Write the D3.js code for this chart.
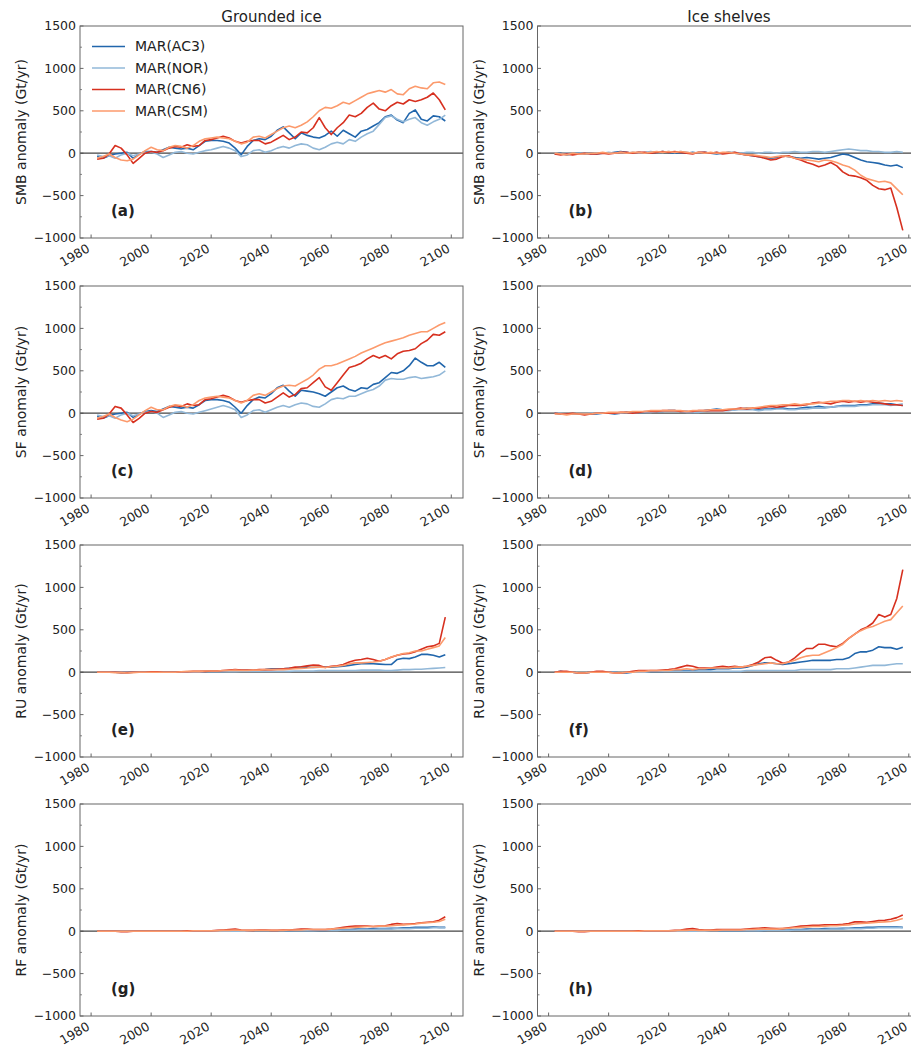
<!DOCTYPE html>
<html>
<head>
<meta charset="utf-8">
<script src="https://cdn.jsdelivr.net/npm/d3@7"></script>
<style>
  body { margin: 0; background: #fff; overflow: hidden; }
  text { font-family: "DejaVu Sans", sans-serif; fill: #222; }
</style>
</head>
<body>
<svg id="fig" width="911" height="1050"></svg>
<script>
// x values (model years, 2-yr sampling of the curves)
const years = [1982,1984,1986,1988,1990,1992,1994,1996,1998,2000,
  2002,2004,2006,2008,2010,2012,2014,2016,2018,2020,
  2022,2024,2026,2028,2030,2032,2034,2036,2038,2040,
  2042,2044,2046,2048,2050,2052,2054,2056,2058,2060,
  2062,2064,2066,2068,2070,2072,2074,2076,2078,2080,
  2082,2084,2086,2088,2090,2092,2094,2096,2098];

const models = ["MAR(AC3)", "MAR(NOR)", "MAR(CN6)", "MAR(CSM)"];
const colors = ["#2166ac", "#92b8d8", "#d7301f", "#fc9a6c"];
const xTicks = [1980, 2000, 2020, 2040, 2060, 2080, 2100];
const yTicks = [-1000, -500, 0, 500, 1000, 1500];
const colTitles = ["Grounded ice", "Ice shelves"];

// (a) SMB grounded
const smbGrAC3 = [-40,-60,-30,-10,0,10,-60,-10,20,20, 10,40,70,60,50,60,40,90,140,150,
  150,140,120,60,-20,80,150,170,160,200, 270,310,240,170,240,210,190,180,210,260,
  200,270,230,190,260,280,320,360,430,450, 390,360,470,510,400,380,440,430,380];
const smbGrNOR = [-20,-40,-30,-60,-20,0,-30,-10,10,10, -10,-50,-20,10,20,0,-10,10,30,40,
  60,80,60,30,-40,-20,30,40,10,30, 60,80,60,90,110,100,60,40,70,110,
  130,110,160,140,190,230,260,340,420,440, 400,370,400,420,360,330,370,400,450];
const smbGrCN6 = [-70,-60,-10,90,60,-20,-120,-60,0,20, 10,30,60,80,70,100,80,90,150,160,
  180,200,180,140,120,140,150,150,110,130, 170,210,160,190,250,240,300,420,300,220,
  300,360,450,430,470,540,590,520,500,560, 600,580,630,610,630,660,710,630,510];
const smbGrCSM = [-60,-40,-10,-50,-80,-90,-70,-20,30,70, 40,30,70,90,80,60,90,140,170,180,
  190,180,170,140,110,130,190,200,180,220, 260,300,320,300,330,370,430,500,540,530,
  560,600,580,620,660,700,720,740,720,750, 700,690,760,790,770,760,830,840,810];

// (b) SMB shelves
const smbShAC3 = [-10,0,-20,-10,0,-10,0,-10,0,0, 10,20,10,0,10,0,10,10,20,10,
  0,10,0,10,0,10,0,-10,0,10, 0,-10,-20,-30,-40,-50,-60,-50,-30,-40,
  -50,-60,-50,-60,-70,-60,-50,-30,-10,-20, -50,-80,-100,-110,-120,-140,-150,-140,-170];
const smbShNOR = [0,-10,0,-10,0,0,-10,0,0,10, 0,10,0,10,0,10,20,10,10,20,
  10,20,10,0,10,10,0,10,0,10, 10,0,10,10,0,10,10,0,10,10,
  20,10,10,20,20,10,20,30,40,50, 40,30,30,20,20,10,10,20,10];
const smbShCN6 = [-10,-20,-10,-20,-10,0,-10,-10,0,-10, 0,10,10,0,10,10,0,10,20,10,
  20,10,0,-10,10,10,0,10,-10,0, 10,-10,-20,-30,-40,-60,-80,-70,-40,-30,
  -60,-80,-110,-130,-160,-140,-110,-150,-220,-260, -270,-290,-320,-380,-420,-430,-410,-640,-910];
const smbShCSM = [0,-10,-20,0,-10,-10,0,0,10,0, 0,10,0,10,10,0,10,20,10,20,
  10,20,10,0,10,0,10,0,10,10, 0,-10,-20,-20,-30,-40,-50,-40,-30,-40,
  -60,-70,-80,-90,-100,-80,-90,-110,-140,-160, -200,-260,-300,-320,-340,-330,-350,-420,-490];

// (c) SF grounded
const sfGrAC3 = [-40,-60,-30,-10,0,10,-50,-10,20,30, 20,50,80,70,60,70,60,100,150,160,
  160,150,130,70,0,90,160,190,180,230, 300,330,260,200,270,260,250,230,200,250,
  300,320,280,260,300,290,340,360,420,480, 470,500,560,650,600,560,560,600,540];
const sfGrNOR = [-20,-40,-30,-60,-20,0,-30,-10,10,20, 0,-50,-20,10,20,0,-10,10,30,50,
  70,90,70,40,-50,-20,30,40,10,40, 70,90,70,100,120,110,80,70,110,160,
  180,170,200,200,230,260,280,320,390,410, 400,400,420,430,410,420,430,450,500];
const sfGrCN6 = [-70,-60,-10,80,60,-20,-110,-60,0,20, 10,40,70,90,80,110,90,100,160,170,
  190,210,190,150,130,150,160,160,120,140, 190,240,190,220,290,300,360,420,310,270,
  360,450,540,560,590,640,680,650,680,640, 700,730,740,760,820,860,930,920,960];
const sfGrCSM = [-60,-40,-10,-50,-80,-100,-70,-20,30,70, 40,40,80,100,90,70,100,150,180,190,
  200,190,180,150,120,150,210,230,210,250, 290,320,330,320,360,400,450,520,560,560,
  580,610,640,670,710,740,770,800,830,850, 870,890,920,940,960,960,1000,1040,1070];

// (d) SF shelves
const sfShAC3 = [0,-10,-10,-10,-10,-10,-10,-10,0,0, -10,0,10,10,10,10,20,20,20,30,
  30,20,20,10,20,30,40,50,40,40, 40,50,60,50,40,50,50,60,60,50,
  50,60,70,70,80,70,70,80,90,90, 90,100,100,110,120,110,110,100,90];
const sfShNOR = [0,0,-10,-10,-10,-10,0,0,0,0, 0,0,10,0,10,10,10,20,20,20,
  20,20,10,10,10,20,30,30,30,30, 40,40,40,40,30,40,40,50,50,40,
  40,50,50,60,60,60,70,80,80,80, 80,90,90,100,100,100,90,100,110];
const sfShCN6 = [0,-10,-10,0,-10,-20,-10,0,0,0, 0,10,10,0,10,20,20,20,30,30,
  30,20,20,20,30,30,30,30,30,40, 50,60,50,60,60,70,80,70,80,90,
  90,90,100,120,130,120,110,130,140,130, 140,130,140,130,120,110,100,100,90];
const sfShCSM = [-10,-10,-20,-10,-10,-10,-10,0,0,10, 10,10,10,20,20,20,30,30,30,30,
  30,30,20,30,30,30,40,40,40,50, 50,50,60,60,70,80,90,90,100,100,
  110,100,110,110,120,130,140,140,150,150, 140,150,140,150,140,150,140,150,140];

// (e) RU grounded
const ruGrAC3 = [0,0,0,0,-5,-5,0,0,0,0, 0,0,0,0,0,5,5,5,10,10,
  10,10,15,20,20,20,20,25,30,40, 40,40,45,50,60,60,55,60,60,60,
  65,70,80,90,100,100,100,95,90,90, 150,165,160,180,210,210,200,180,205];
const ruGrNOR = [0,0,0,0,0,0,0,0,0,0, 0,0,0,0,0,0,0,0,5,5,
  5,5,5,5,10,10,10,10,10,10, 10,10,10,15,15,15,15,20,20,20,
  20,20,20,20,25,25,25,25,20,20, 25,30,30,35,35,40,45,50,55];
const ruGrCN6 = [0,0,0,0,-5,-5,0,0,0,5, 5,0,0,0,5,5,10,10,10,15,
  15,20,25,30,25,25,25,30,30,30, 35,40,45,60,65,75,85,80,55,70,
  75,90,120,140,150,165,150,130,150,175, 200,215,220,240,270,300,310,340,650];
const ruGrCSM = [0,0,0,-5,-5,-10,-5,0,0,0, 0,0,0,0,5,10,10,10,15,15,
  15,20,20,25,20,20,25,25,30,30, 30,30,35,40,45,50,60,60,55,65,
  70,80,100,110,110,115,120,130,150,180, 200,220,230,250,250,270,290,310,410];

// (f) RU shelves
const ruShAC3 = [0,10,0,0,-10,-10,0,0,0,0, 0,-10,-10,0,10,10,10,10,10,20,
  20,20,20,20,30,30,30,40,40,40, 50,50,60,80,100,110,110,100,90,100,
  110,120,130,140,140,140,140,150,150,170, 220,240,240,260,300,290,290,270,295];
const ruShNOR = [0,0,0,0,-10,-10,0,0,0,0, 0,-10,0,0,0,0,10,10,10,10,
  10,10,10,10,10,10,10,10,10,10, 10,10,20,20,20,20,20,20,20,20,
  20,30,30,30,30,30,30,40,40,40, 50,60,70,80,80,80,90,100,100];
const ruShCN6 = [0,10,10,0,-10,-10,0,10,10,0, -10,-10,0,10,20,20,20,20,25,30,
  40,60,80,70,50,50,50,60,70,60, 70,60,70,90,120,170,180,140,105,120,
  170,230,280,280,330,330,310,300,340,400, 450,500,530,580,680,650,680,870,1210];
const ruShCSM = [0,0,0,0,-10,-10,0,0,0,0, -10,-10,0,0,10,10,20,20,20,20,
  30,30,40,30,40,40,50,50,50,50, 60,60,70,80,90,100,110,100,100,120,
  140,170,190,200,200,230,260,290,330,400, 450,490,520,540,570,600,620,700,780];

// (g) RF grounded
const rfGrAC3 = [0,0,0,0,0,0,0,0,0,0, 0,0,0,0,0,0,0,0,0,0,
  0,0,5,5,5,5,5,5,5,5, 5,5,5,10,10,10,10,10,10,15,
  15,20,20,25,25,25,30,30,30,35, 35,40,40,45,45,45,50,45,45];
const rfGrNOR = [0,0,0,0,0,0,0,0,0,0, 0,0,0,0,0,0,0,0,0,0,
  0,0,0,0,0,0,5,5,5,5, 5,5,5,5,5,5,5,10,10,10,
  10,15,15,15,20,20,20,25,25,25, 30,30,30,35,35,35,40,40,40];
const rfGrCN6 = [0,0,0,0,-5,-5,0,0,0,0, 0,0,0,0,0,5,5,5,5,5,
  10,15,20,25,15,10,10,15,15,10, 10,15,15,20,25,25,20,20,20,25,
  35,45,55,60,60,60,55,60,65,80, 90,80,85,90,100,105,110,130,170];
const rfGrCSM = [0,0,0,0,0,0,0,0,0,0, 0,0,0,0,0,0,5,5,5,5,
  5,10,10,15,10,10,10,10,10,10, 10,10,15,15,15,20,20,20,20,25,
  30,35,40,45,50,55,55,60,60,65, 70,75,80,85,95,100,105,115,140];

// (h) RF shelves
const rfShAC3 = [0,0,0,0,0,0,0,0,0,0, 0,0,0,0,0,0,0,0,0,0,
  0,0,5,5,5,5,5,5,5,5, 5,5,10,10,10,10,15,15,15,15,
  20,20,25,25,25,30,30,30,35,35, 40,40,45,45,50,50,50,50,45];
const rfShNOR = [0,0,0,0,0,0,0,0,0,0, 0,0,0,0,0,0,0,0,0,0,
  0,0,0,0,0,0,5,5,5,5, 5,5,5,5,5,10,10,10,10,10,
  15,15,15,20,20,20,25,25,25,30, 30,30,35,35,40,40,40,40,40];
const rfShCN6 = [0,0,0,0,-5,-5,0,0,0,0, 0,0,0,0,5,5,5,5,5,5,
  10,15,25,30,20,15,15,20,20,20, 20,20,25,30,35,40,35,30,30,40,
  50,60,65,70,70,75,75,75,80,90, 110,110,105,115,125,130,140,160,190];
const rfShCSM = [0,0,0,0,0,0,0,0,0,0, 0,0,0,0,0,5,5,5,5,5,
  5,10,10,15,10,10,10,10,15,15, 15,15,20,20,25,25,25,25,30,35,
  40,45,50,55,55,60,65,65,70,75, 85,90,95,100,105,110,115,130,150];

const panels = [
  { tag: "(a)", ylab: "SMB anomaly (Gt/yr)", col: 0, row: 0, data: [smbGrAC3, smbGrNOR, smbGrCN6, smbGrCSM] },
  { tag: "(b)", ylab: "SMB anomaly (Gt/yr)", col: 1, row: 0, data: [smbShAC3, smbShNOR, smbShCN6, smbShCSM] },
  { tag: "(c)", ylab: "SF anomaly (Gt/yr)", col: 0, row: 1, data: [sfGrAC3, sfGrNOR, sfGrCN6, sfGrCSM] },
  { tag: "(d)", ylab: "SF anomaly (Gt/yr)", col: 1, row: 1, data: [sfShAC3, sfShNOR, sfShCN6, sfShCSM] },
  { tag: "(e)", ylab: "RU anomaly (Gt/yr)", col: 0, row: 2, data: [ruGrAC3, ruGrNOR, ruGrCN6, ruGrCSM] },
  { tag: "(f)", ylab: "RU anomaly (Gt/yr)", col: 1, row: 2, data: [ruShAC3, ruShNOR, ruShCN6, ruShCSM] },
  { tag: "(g)", ylab: "RF anomaly (Gt/yr)", col: 0, row: 3, data: [rfGrAC3, rfGrNOR, rfGrCN6, rfGrCSM] },
  { tag: "(h)", ylab: "RF anomaly (Gt/yr)", col: 1, row: 3, data: [rfShAC3, rfShNOR, rfShCN6, rfShCSM] }
];

const svg = d3.select("#fig");
const colX = [80, 537.5];
const rowY = [26, 286, 545, 804];
const W = 383, H = 212;

const x = d3.scaleLinear().domain([1976.3, 2103.9]).range([0, W]);
const y = d3.scaleLinear().domain([-1000, 1500]).range([H, 0]);
const line = d3.line().x((d, i) => x(years[i])).y(d => y(d));

// column titles
colTitles.forEach((t, c) => {
  svg.append("text")
    .attr("x", colX[c] + W / 2).attr("y", 22)
    .attr("text-anchor", "middle")
    .attr("font-size", 15)
    .text(t);
});

panels.forEach(p => {
  const g = svg.append("g").attr("transform", `translate(${colX[p.col]},${rowY[p.row]})`);

  // y ticks (major + minor, inward)
  const minor = d3.range(-1000, 1501, 250).filter(v => !yTicks.includes(v));
  g.selectAll(".ymin").data(minor).enter().append("line")
    .attr("x1", 0).attr("x2", 2).attr("y1", d => y(d)).attr("y2", d => y(d))
    .attr("stroke", "#666").attr("stroke-width", 0.8);
  g.selectAll(".ymaj").data(yTicks).enter().append("line")
    .attr("x1", 0).attr("x2", 3.5).attr("y1", d => y(d)).attr("y2", d => y(d))
    .attr("stroke", "#555").attr("stroke-width", 0.9);
  g.selectAll(".ylab").data(yTicks).enter().append("text")
    .attr("x", -4).attr("y", d => y(d))
    .attr("dy", "0.35em")
    .attr("text-anchor", "end")
    .attr("font-size", 12.5)
    .text(d => d < 0 ? "\u2212" + Math.abs(d) : d);

  // x ticks
  g.selectAll(".xmaj").data(xTicks).enter().append("line")
    .attr("x1", d => x(d)).attr("x2", d => x(d)).attr("y1", H).attr("y2", H - 3.5)
    .attr("stroke", "#555").attr("stroke-width", 0.9);
  g.selectAll(".xlab").data(xTicks).enter().append("text")
    .attr("transform", d => `translate(${x(d) - 0.5},${H + 13}) rotate(-30)`)
    .attr("text-anchor", "end")
    .attr("font-size", 12.5)
    .text(d => d);

  // zero line
  g.append("line")
    .attr("x1", 0).attr("x2", W).attr("y1", y(0)).attr("y2", y(0))
    .attr("stroke", "#444").attr("stroke-width", 1.3);

  // series
  p.data.forEach((s, k) => {
    g.append("path")
      .datum(s)
      .attr("d", line)
      .attr("fill", "none")
      .attr("stroke", colors[k])
      .attr("stroke-width", 1.6)
      .attr("stroke-linejoin", "round");
  });

  // frame
  g.append("rect")
    .attr("width", W).attr("height", H)
    .attr("fill", "none").attr("stroke", "#666").attr("stroke-width", 1);

  // y label
  g.append("text")
    .attr("transform", `translate(-54,${H / 2}) rotate(-90)`)
    .attr("text-anchor", "middle")
    .attr("font-size", 14)
    .text(p.ylab);

  // panel tag
  g.append("text")
    .attr("x", 31).attr("y", 190)
    .attr("font-size", 15).attr("font-weight", "bold")
    .text(p.tag);

  // legend in panel (a)
  if (p.tag === "(a)") {
    const lg = g.append("g").attr("transform", "translate(12,20.5)");
    models.forEach((m, k) => {
      lg.append("line")
        .attr("x1", 0).attr("x2", 33).attr("y1", k * 21.5).attr("y2", k * 21.5)
        .attr("stroke", colors[k]).attr("stroke-width", 1.6);
      lg.append("text")
        .attr("x", 43).attr("y", k * 21.5).attr("dy", "0.35em")
        .attr("font-size", 14)
        .text(m);
    });
  }
});
</script>
</body>
</html>
